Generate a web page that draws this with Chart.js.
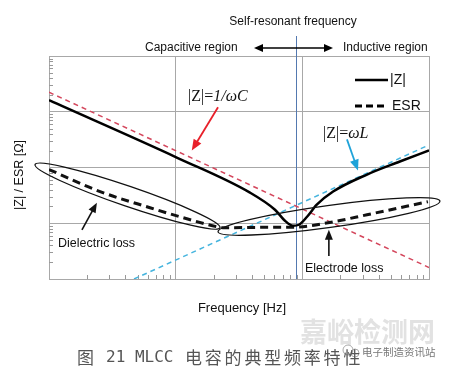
<!DOCTYPE html>
<html>
<head>
<meta charset="utf-8">
<script src="https://cdn.jsdelivr.net/npm/chart.js@4"></script>
<style>
  body { margin: 0; background: #fff; }
  canvas { display: block; }
</style>
</head>
<body>
<canvas id="c" width="452" height="373"></canvas>
<script>
// |Z| (solid)
const zFreq = [1, 10.2, 38.6, 60.8, 72.9, 84.3, 94, 109, 130, 175, 324, 589, 1000]
const zVals = [16.1, 1.51, 0.355, 0.175, 0.111, 0.0902, 0.094, 0.131, 0.215, 0.37, 0.748, 1.28, 2.03]
// ESR (dashed)
const esrFreq = [1, 2.53, 6.27, 11.4, 21.2, 23.6, 52.6, 84.3, 175, 324, 980]
const esrVals = [0.92, 0.37, 0.19, 0.126, 0.0865, 0.083, 0.0845, 0.0845, 0.106, 0.142, 0.244]
// asymptotes |Z|=1/wC and |Z|=wL
const capFreq = [1, 1000]
const capVals = [22.4, 0.0161]
const indFreq = [4.69, 1000]
const indVals = [0.01, 2.54]
// self-resonant frequency
const srf = 89
// decade ticks
const xTicks = [1, 10, 100, 1000]
const yTicks = [0.01, 0.1, 1, 10, 100]

const pts = (xs, ys) => xs.map((x, i) => ({ x: x, y: ys[i] }))

const SANS = '"Liberation Sans", Arial, sans-serif'
const SERIF = '"Liberation Serif", "Times New Roman", serif'

const arrow = (ctx, x1, y1, x2, y2, color, w, hl, hw) => {
  let a = Math.atan2(y2 - y1, x2 - x1)
  ctx.save()
  ctx.strokeStyle = color
  ctx.fillStyle = color
  ctx.lineWidth = w
  ctx.beginPath()
  ctx.moveTo(x1, y1)
  ctx.lineTo(x2 - Math.cos(a) * hl * 0.8, y2 - Math.sin(a) * hl * 0.8)
  ctx.stroke()
  ctx.beginPath()
  ctx.moveTo(x2, y2)
  ctx.lineTo(x2 - Math.cos(a) * hl - Math.sin(a) * hw / 2, y2 - Math.sin(a) * hl + Math.cos(a) * hw / 2)
  ctx.lineTo(x2 - Math.cos(a) * hl + Math.sin(a) * hw / 2, y2 - Math.sin(a) * hl - Math.cos(a) * hw / 2)
  ctx.closePath()
  ctx.fill()
  ctx.restore()
}

const extras = {
  id: 'extras',
  beforeDraw(chart) {
    let ctx = chart.ctx
    ctx.save()
    ctx.fillStyle = '#fff'
    ctx.fillRect(0, 0, chart.width, chart.height)
    ctx.restore()
  },
  beforeDatasetsDraw(chart) {
    let ctx = chart.ctx
    let xs = chart.scales.x, ys = chart.scales.y
    let area = chart.chartArea
    ctx.save()
    // minor ticks, inside left and bottom
    ctx.strokeStyle = '#999'
    ctx.lineWidth = 1
    ctx.beginPath()
    for (let d = 0.01; d < 100; d *= 10) {
      for (let k = 2; k < 10; k++) {
        let y = Math.round(ys.getPixelForValue(k * d)) + 0.5
        ctx.moveTo(area.left, y)
        ctx.lineTo(area.left + 4, y)
      }
    }
    for (let d = 1; d < 1000; d *= 10) {
      for (let k = 2; k < 10; k++) {
        let x = Math.round(xs.getPixelForValue(k * d)) + 0.5
        ctx.moveTo(x, area.bottom)
        ctx.lineTo(x, area.bottom - 4)
      }
    }
    ctx.stroke()
    // self-resonant frequency line
    let sx = Math.round(xs.getPixelForValue(srf)) + 0.5
    ctx.strokeStyle = '#5479b0'
    ctx.beginPath()
    ctx.moveTo(sx, 36)
    ctx.lineTo(sx, area.bottom)
    ctx.stroke()
    ctx.restore()
  },
  afterDraw(chart) {
    let ctx = chart.ctx
    let xs = chart.scales.x, ys = chart.scales.y
    const P = (x, y) => [xs.getPixelForValue(x), ys.getPixelForValue(y)]
    ctx.save()

    // ellipses round the loss regions
    const ellipse = (a, b, r) => {
      let p1 = P(a[0], a[1]), p2 = P(b[0], b[1])
      let cx = (p1[0] + p2[0]) / 2, cy = (p1[1] + p2[1]) / 2
      let len = Math.hypot(p2[0] - p1[0], p2[1] - p1[1]) / 2
      let ang = Math.atan2(p2[1] - p1[1], p2[0] - p1[0])
      ctx.beginPath()
      ctx.ellipse(cx, cy, len, r, ang, 0, Math.PI * 2)
      ctx.stroke()
    }
    ctx.strokeStyle = '#111'
    ctx.lineWidth = 1.3
    ellipse([0.776, 1.13], [22.4, 0.083], 10)
    ellipse([21.6, 0.0703], [1220, 0.25], 11)

    // arrows
    let a1 = P(21.6, 12.0), a2 = P(13.4, 2.02)
    arrow(ctx, a1[0], a1[1], a2[0], a2[1], '#e8202a', 1.8, 11, 9)
    let b1 = P(225, 3.2), b2 = P(275, 0.883)
    arrow(ctx, b1[0], b1[1], b2[0], b2[1], '#1fa3d9', 1.8, 11, 9)
    let c1 = P(1.82, 0.0764), c2 = P(2.39, 0.234)
    arrow(ctx, c1[0], c1[1], c2[0], c2[1], '#111', 1.6, 10, 8)
    let d1 = P(162, 0.0259), d2 = P(162, 0.0764)
    arrow(ctx, d1[0], d1[1], d2[0], d2[1], '#111', 1.6, 10, 8)

    // legend
    ctx.strokeStyle = '#000'
    ctx.lineWidth = 2.5
    ctx.beginPath()
    ctx.moveTo(355, 80)
    ctx.lineTo(388, 80)
    ctx.stroke()
    ctx.lineWidth = 3
    ctx.setLineDash([7, 4])
    ctx.beginPath()
    ctx.moveTo(355, 106)
    ctx.lineTo(388, 106)
    ctx.stroke()
    ctx.setLineDash([])

    ctx.fillStyle = '#111'
    ctx.textBaseline = 'middle'
    ctx.textAlign = 'left'
    ctx.font = '14px ' + SANS
    ctx.fillText('|Z|', 390, 80)
    ctx.fillText('ESR', 392, 106)

    // header texts
    ctx.font = '12px ' + SANS
    ctx.textAlign = 'center'
    ctx.fillText('Self-resonant frequency', 293, 22)
    ctx.textAlign = 'left'
    ctx.fillText('Capacitive region', 145, 48)
    ctx.fillText('Inductive region', 343, 48)
    // double arrow
    arrow(ctx, 290, 48, 254, 48, '#000', 1.5, 9, 8)
    arrow(ctx, 290, 48, 333, 48, '#000', 1.5, 9, 8)

    // formulas
    const formula = (x, y, up, it) => {
      ctx.font = '16px ' + SERIF
      ctx.fillText(up, x, y)
      let w = ctx.measureText(up).width
      ctx.font = 'italic 16px ' + SERIF
      ctx.fillText(it, x + w, y)
    }
    formula(188, 97, '|Z|=', '1/ωC')
    formula(323, 134, '|Z|=', 'ωL')

    // region labels
    ctx.font = '12.5px ' + SANS
    ctx.fillText('Dielectric loss', 58, 244)
    ctx.fillText('Electrode loss', 305, 269)

    // axis titles
    ctx.font = '13px ' + SANS
    ctx.textAlign = 'center'
    ctx.fillText('Frequency [Hz]', 242, 308)
    ctx.save()
    ctx.translate(20, 175)
    ctx.rotate(-Math.PI / 2)
    ctx.font = '12.5px ' + SANS
    ctx.fillText('|Z| / ESR [Ω]', 0, 0)
    ctx.restore()

    // watermark
    ctx.textAlign = 'left'
    ctx.fillStyle = '#e2e2e2'
    ctx.font = 'bold 27px "Noto Sans CJK SC", sans-serif'
    ctx.fillText('嘉峪检测网', 300, 332)
    ctx.fillStyle = '#777'
    ctx.font = '10.5px "Noto Sans CJK SC", sans-serif'
    ctx.fillText('电子制造资讯站', 362, 352)
    ctx.strokeStyle = '#aaa'
    ctx.lineWidth = 1
    ctx.beginPath()
    ctx.arc(348, 350, 5, 0, Math.PI * 2)
    ctx.stroke()
    ctx.beginPath()
    ctx.arc(355, 353, 4, 0, Math.PI * 2)
    ctx.stroke()

    // caption
    ctx.fillStyle = '#555'
    ctx.font = '17px "Noto Sans CJK SC", sans-serif'
    ctx.fillText('图', 77, 358)
    ctx.font = '16px "DejaVu Sans Mono", monospace'
    ctx.fillText('21 MLCC', 106, 358)
    ctx.font = '17px "Noto Sans CJK SC", sans-serif'
    let cap = '电容的典型频率特性'
    for (let i = 0; i < cap.length; i++) {
      ctx.fillText(cap[i], 185 + i * 19.8, 358)
    }
    ctx.restore()
  }
}

new Chart(document.getElementById('c'), {
  type: 'line',
  data: {
    datasets: [
      {
        label: '|Z|',
        data: pts(zFreq, zVals),
        borderColor: '#000',
        borderWidth: 2.5,
        cubicInterpolationMode: 'monotone',
        pointRadius: 0
      },
      {
        label: 'ESR',
        data: pts(esrFreq, esrVals),
        borderColor: '#111',
        borderWidth: 3,
        borderDash: [8, 5],
        cubicInterpolationMode: 'monotone',
        pointRadius: 0
      },
      {
        label: '1/wC',
        data: pts(capFreq, capVals),
        borderColor: '#d4465c',
        borderWidth: 1.5,
        borderDash: [5, 4],
        pointRadius: 0
      },
      {
        label: 'wL',
        data: pts(indFreq, indVals),
        borderColor: '#45b4de',
        borderWidth: 1.5,
        borderDash: [5, 4],
        pointRadius: 0
      }
    ]
  },
  options: {
    responsive: false,
    animation: false,
    layout: { padding: { left: 49, right: 23, top: 56, bottom: 94 } },
    plugins: {
      legend: { display: false },
      tooltip: { enabled: false }
    },
    scales: {
      x: {
        type: 'logarithmic',
        min: 1,
        max: 1000,
        afterBuildTicks: s => { s.ticks = xTicks.map(v => ({ value: v })) },
        afterFit: s => { s.height = 0 },
        ticks: { display: false },
        grid: { color: '#a8a8a8', drawTicks: false },
        border: { color: '#a8a8a8' }
      },
      y: {
        type: 'logarithmic',
        min: 0.01,
        max: 100,
        afterBuildTicks: s => { s.ticks = yTicks.map(v => ({ value: v })) },
        afterFit: s => { s.width = 0 },
        ticks: { display: false },
        grid: { color: '#a8a8a8', drawTicks: false },
        border: { color: '#a8a8a8' }
      }
    }
  },
  plugins: [extras]
})
</script>
</body>
</html>
